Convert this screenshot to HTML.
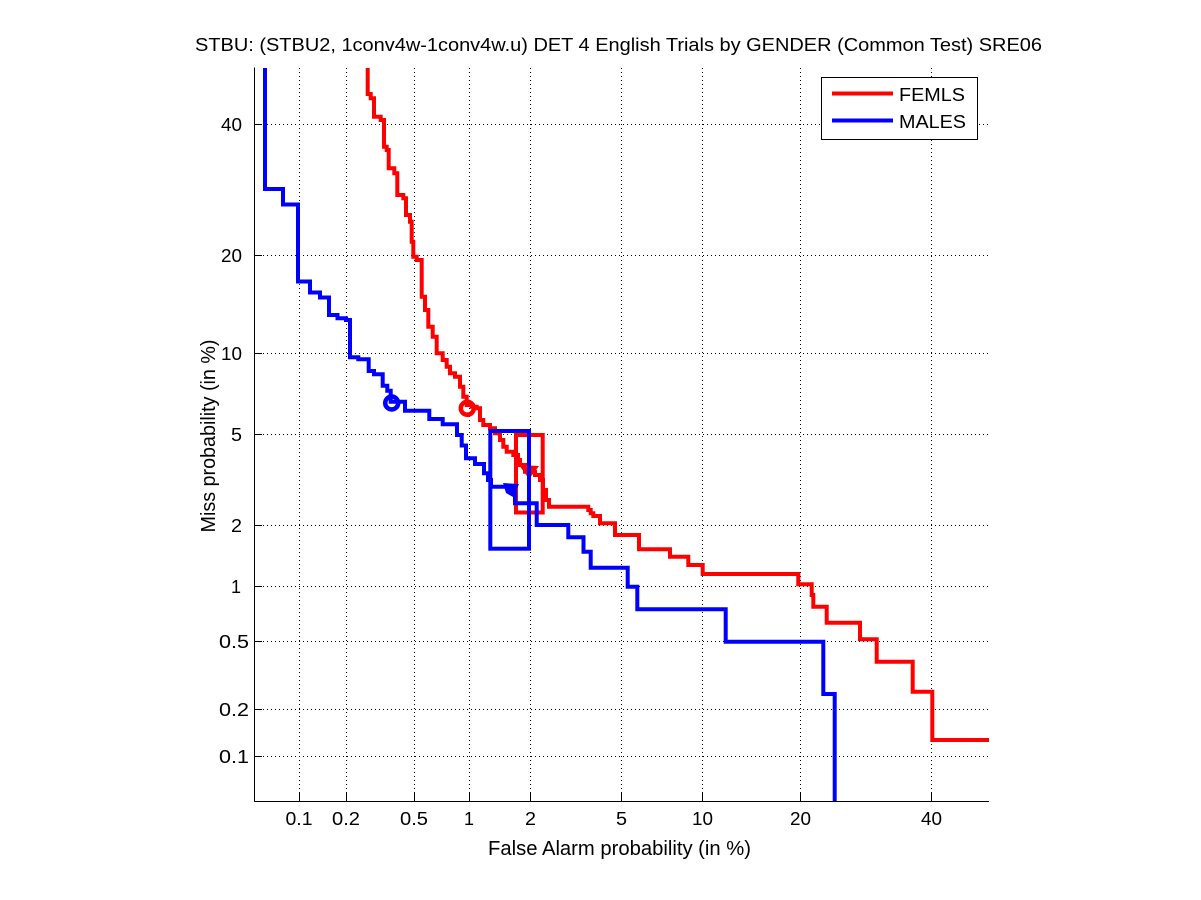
<!DOCTYPE html>
<html>
<head>
<meta charset="utf-8">
<style>
  html, body { margin: 0; padding: 0; background: #fff; }
  svg { display: block; }
  text { font-family: "Liberation Sans", Arial, sans-serif; fill: #000; }
</style>
</head>
<body>
<svg width="1201" height="900" viewBox="0 0 1201 900" xmlns="http://www.w3.org/2000/svg">
  <rect x="0" y="0" width="1201" height="900" fill="#fff"/>

  <!-- Title -->
  <text x="195" y="51" font-size="18" textLength="847" lengthAdjust="spacingAndGlyphs">STBU: (STBU2, 1conv4w-1conv4w.u) DET 4 English Trials by GENDER (Common Test) SRE06</text>

  <!-- Grid: vertical dotted -->
  <g stroke="#000" stroke-width="1" stroke-dasharray="1 3" fill="none">
    <line x1="299.5" y1="68" x2="299.5" y2="801"/>
    <line x1="346.5" y1="68" x2="346.5" y2="801"/>
    <line x1="414.5" y1="68" x2="414.5" y2="801"/>
    <line x1="469.5" y1="68" x2="469.5" y2="801"/>
    <line x1="530.5" y1="68" x2="530.5" y2="801"/>
    <line x1="621.5" y1="68" x2="621.5" y2="801"/>
    <line x1="702.5" y1="68" x2="702.5" y2="801"/>
    <line x1="800.5" y1="68" x2="800.5" y2="801"/>
    <line x1="931.5" y1="68" x2="931.5" y2="801"/>
    <!-- horizontal -->
    <line x1="255" y1="124.5" x2="989" y2="124.5"/>
    <line x1="255" y1="255.5" x2="989" y2="255.5"/>
    <line x1="255" y1="353.5" x2="989" y2="353.5"/>
    <line x1="255" y1="434.5" x2="989" y2="434.5"/>
    <line x1="255" y1="525.5" x2="989" y2="525.5"/>
    <line x1="255" y1="586.5" x2="989" y2="586.5"/>
    <line x1="255" y1="641.5" x2="989" y2="641.5"/>
    <line x1="255" y1="709.5" x2="989" y2="709.5"/>
    <line x1="255" y1="756.5" x2="989" y2="756.5"/>
  </g>

  <!-- Axes -->
  <g stroke="#000" stroke-width="1" fill="none">
    <line x1="254.5" y1="67.5" x2="254.5" y2="801.5"/>
    <line x1="254" y1="801.5" x2="989" y2="801.5"/>
    <!-- y ticks -->
    <line x1="254" y1="124.5" x2="262" y2="124.5"/>
    <line x1="254" y1="255.5" x2="262" y2="255.5"/>
    <line x1="254" y1="353.5" x2="262" y2="353.5"/>
    <line x1="254" y1="434.5" x2="262" y2="434.5"/>
    <line x1="254" y1="525.5" x2="262" y2="525.5"/>
    <line x1="254" y1="586.5" x2="262" y2="586.5"/>
    <line x1="254" y1="641.5" x2="262" y2="641.5"/>
    <line x1="254" y1="709.5" x2="262" y2="709.5"/>
    <line x1="254" y1="756.5" x2="262" y2="756.5"/>
    <!-- x ticks -->
    <line x1="299.5" y1="801" x2="299.5" y2="793"/>
    <line x1="346.5" y1="801" x2="346.5" y2="793"/>
    <line x1="414.5" y1="801" x2="414.5" y2="793"/>
    <line x1="469.5" y1="801" x2="469.5" y2="793"/>
    <line x1="530.5" y1="801" x2="530.5" y2="793"/>
    <line x1="621.5" y1="801" x2="621.5" y2="793"/>
    <line x1="702.5" y1="801" x2="702.5" y2="793"/>
    <line x1="800.5" y1="801" x2="800.5" y2="793"/>
    <line x1="931.5" y1="801" x2="931.5" y2="793"/>
  </g>

  <!-- Y tick labels -->
  <g font-size="18" text-anchor="end">
    <text x="242" y="131" textLength="21" lengthAdjust="spacingAndGlyphs">40</text>
    <text x="242" y="262" textLength="21" lengthAdjust="spacingAndGlyphs">20</text>
    <text x="242" y="360" textLength="21" lengthAdjust="spacingAndGlyphs">10</text>
    <text x="242" y="441" textLength="11" lengthAdjust="spacingAndGlyphs">5</text>
    <text x="242" y="532" textLength="11" lengthAdjust="spacingAndGlyphs">2</text>
    <text x="241" y="593">1</text>
    <text x="249" y="648" textLength="30" lengthAdjust="spacingAndGlyphs">0.5</text>
    <text x="249" y="716" textLength="30" lengthAdjust="spacingAndGlyphs">0.2</text>
    <text x="249" y="763" textLength="30" lengthAdjust="spacingAndGlyphs">0.1</text>
  </g>

  <!-- X tick labels -->
  <g font-size="18" text-anchor="middle">
    <text x="299" y="825" textLength="27" lengthAdjust="spacingAndGlyphs">0.1</text>
    <text x="346" y="825" textLength="28" lengthAdjust="spacingAndGlyphs">0.2</text>
    <text x="414" y="825" textLength="28" lengthAdjust="spacingAndGlyphs">0.5</text>
    <text x="469" y="825">1</text>
    <text x="530.5" y="825" textLength="11" lengthAdjust="spacingAndGlyphs">2</text>
    <text x="621.5" y="825" textLength="11" lengthAdjust="spacingAndGlyphs">5</text>
    <text x="702.5" y="825" textLength="21" lengthAdjust="spacingAndGlyphs">10</text>
    <text x="800.5" y="825" textLength="21" lengthAdjust="spacingAndGlyphs">20</text>
    <text x="931.5" y="825" textLength="21" lengthAdjust="spacingAndGlyphs">40</text>
  </g>

  <!-- Axis labels -->
  <text x="488" y="855" font-size="20" textLength="263" lengthAdjust="spacingAndGlyphs">False Alarm probability (in %)</text>
  <text x="0" y="0" font-size="20" text-anchor="middle" textLength="193" lengthAdjust="spacingAndGlyphs" transform="translate(215,436) rotate(-90)">Miss probability (in %)</text>

  <!-- FEMLS (red) -->
  <g fill="none" stroke="#ff0000" stroke-width="4" stroke-linejoin="miter">
    <polyline points="367.7,68 367.7,94 370.7,94 370.7,98.3 374,98.3 374,116.7 380.7,116.7 380.7,120 384,120 384,146.7 386.7,146.7 386.7,150 388.7,150 388.7,168.3 394.3,168.3 394.3,173.3 397.3,173.3 397.3,195 403.3,195 403.3,198.3 406,198.3 406,215 410,215 410,221.7 411.7,221.7 411.7,241.7 413.3,241.7 413.3,256.7 416.7,256.7 416.7,260 421.7,260 421.7,296.7 425,296.7 425,310 428.3,310 428.3,326.7 432.7,326.7 432.7,336.7 436.7,336.7 436.7,353.3 442.7,353.3 442.7,360 446.7,360 446.7,366.7 450,366.7 450,373.3 455,373.3 455,376.7 460,376.7 460,386.7 463.3,386.7 463.3,396.7 466.7,396.7 466.7,405 471.7,405 471.7,406.7 476.7,406.7 476.7,408.3 480,408.3 480,420 483.3,420 483.3,425 490,425 490,428.3 495,428.3 495,433.3 500,433.3 500,440 503.3,440 503.3,446.7 506.7,446.7 506.7,451.7 513.3,451.7 513.3,455 518,455 518,460 520,460 520,465 525,465 525,471.7 535,471.7 535,475 540,475 540,480 543,480 543,490 546,490 546,500 549,500 549,506.7 588.3,506.7 588.3,510 590.7,510 590.7,513.3 593.3,513.3 593.3,516 600,516 600,523.3 615,523.3 615,535 639,535 639,549.3 670,549.3 670,556.7 688.3,556.7 688.3,565 702.7,565 702.7,574 798.3,574 798.3,584.3 811.7,584.3 811.7,595 813.3,595 813.3,606.7 826.7,606.7 826.7,622.7 860,622.7 860,639.3 876.7,639.3 876.7,661.7 912.7,661.7 912.7,691.7 932.3,691.7 932.3,740 989,740"/>
    <rect x="516" y="435" width="26.7" height="77.5"/>
    <circle cx="467.3" cy="408.3" r="6.5" stroke-width="4.5"/>
  </g>
  <polygon points="519,465 539,466 529,479" fill="#ff0000"/>

  <!-- MALES (blue) -->
  <g fill="none" stroke="#0000ff" stroke-width="4" stroke-linejoin="miter">
    <polyline points="265,68 265,189 283,189 283,204.5 298,204.5 298,281.5 310,281.5 310,292.5 320,292.5 320,297.5 329,297.5 329,315 337.5,315 337.5,318.3 346,318.3 346,320 350,320 350,357.3 358.3,357.3 358.3,359.3 368.7,359.3 368.7,371 374,371 374,374.3 382.7,374.3 382.7,385.7 387.3,385.7 387.3,390.7 390.7,390.7 390.7,401.7 405,401.7 405,410.7 429.3,410.7 429.3,419 442.7,419 442.7,424.3 457,424.3 457,435 461.7,435 461.7,445.5 466,445.5 466,458.3 475,458.3 475,464 484,464 484,473.3 488,473.3 488,480 491,480 491,486.7 513,486.7 513,490 515,490 515,503.3 536.7,503.3 536.7,525 568.3,525 568.3,537.3 583.5,537.3 583.5,551.7 590.7,551.7 590.7,567.7 627.7,567.7 627.7,586.7 637.3,586.7 637.3,609.3 725.7,609.3 725.7,641.7 823.3,641.7 823.3,694 834.7,694 834.7,801"/>
    <rect x="490.3" y="431" width="38.7" height="117.7"/>
    <circle cx="391.7" cy="403" r="6.5" stroke-width="4.5"/>
  </g>
  <polygon points="503,483 519,484 513,497 506,493" fill="#0000ff"/>

  <!-- Legend -->
  <rect x="821.5" y="77.5" width="156" height="62" fill="#fff" stroke="#000" stroke-width="1"/>
  <line x1="832" y1="93.5" x2="893" y2="93.5" stroke="#ff0000" stroke-width="4"/>
  <line x1="832" y1="120.5" x2="893" y2="120.5" stroke="#0000ff" stroke-width="4"/>
  <text x="899" y="101" font-size="18" textLength="66" lengthAdjust="spacingAndGlyphs">FEMLS</text>
  <text x="899" y="128" font-size="18" textLength="67" lengthAdjust="spacingAndGlyphs">MALES</text>
</svg>
</body>
</html>
